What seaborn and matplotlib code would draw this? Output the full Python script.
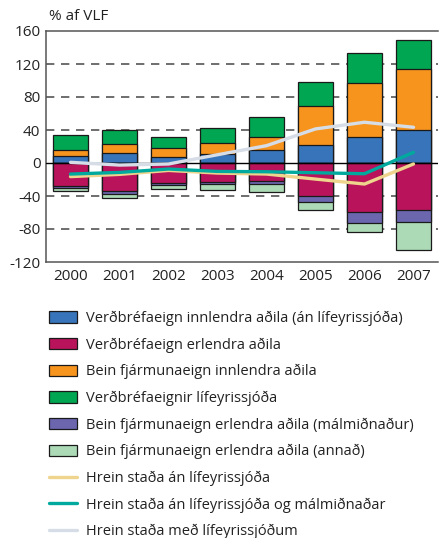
import numpy as np
import pandas as pd
import matplotlib
matplotlib.use("Agg")
import matplotlib.pyplot as plt
import seaborn as sns
from matplotlib.patches import Patch
from matplotlib.lines import Line2D

years = ["2000", "2001", "2002", "2003", "2004", "2005", "2006", "2007"]

# bar segments (% af VLF)
innl_verdbref = [8.5, 12.2, 7.7, 11.3, 15.8, 21.9, 31.6, 40.5]
innl_bein = [6.8, 10.4, 10.1, 12.5, 16.2, 47.4, 64.9, 73.4]
lifeyr_verdbref = [19.1, 17.5, 13.4, 19.2, 23.3, 29.2, 37.3, 34.9]
erl_verdbref = [-27.4, -34.2, -24.0, -23.1, -22.0, -40.1, -59.6, -57.2]
erl_bein_malm = [-2.6, -3.3, -3.2, -2.4, -3.2, -7.3, -13.0, -14.6]
erl_bein_annad = [-3.5, -4.7, -4.4, -7.3, -10.1, -9.8, -11.4, -33.7]

# lines
an_lifeyr = [-16.5, -13.8, -9.0, -12.2, -13.4, -19.5, -25.5, -1.2]
an_lifeyr_malm = [-13.4, -11.4, -7.3, -10.2, -10.6, -11.8, -13.0, 12.9]
med_lifeyr = [0.8, -2.5, -1.2, 10.0, 21.0, 41.3, 49.4, 43.3]

labels = [
    "Verðbréfaeign innlendra aðila (án lífeyrissjóða)",
    "Verðbréfaeign erlendra aðila",
    "Bein fjármunaeign innlendra aðila",
    "Verðbréfaeignir lífeyrissjóða",
    "Bein fjármunaeign erlendra aðila (málmiðnaður)",
    "Bein fjármunaeign erlendra aðila (annað)",
    "Hrein staða án lífeyrissjóða",
    "Hrein staða án lífeyrissjóða og málmiðnaðar",
    "Hrein staða með lífeyrissjóðum",
]

c_blue = "#3874b9"
c_pink = "#b8135b"
c_orange = "#f7941e"
c_green = "#00a651"
c_purple = "#6c66ae"
c_lgreen = "#acd9b6"
c_yellow = "#eed48c"
c_teal = "#00a99d"
c_grey = "#d6dde7"

sns.set_style("white")
plt.rcParams["font.family"] = ["Open Sans", "DejaVu Sans"]
plt.rcParams["axes.unicode_minus"] = False

fig = plt.figure(figsize=(4.4, 5.38), dpi=100)
ax = fig.add_axes([46 / 440, 1 - 262 / 538, 392 / 440, 231 / 538])

df = pd.DataFrame({
    "year": years,
    "pos1": np.array(innl_verdbref),
    "pos2": np.array(innl_verdbref) + np.array(innl_bein),
    "pos3": np.array(innl_verdbref) + np.array(innl_bein) + np.array(lifeyr_verdbref),
    "neg1": np.array(erl_verdbref),
    "neg2": np.array(erl_verdbref) + np.array(erl_bein_malm),
    "neg3": np.array(erl_verdbref) + np.array(erl_bein_malm) + np.array(erl_bein_annad),
})

for y in [120, 80, 40, -40, -80]:
    ax.axhline(y, color="#555555", lw=1.2, dashes=(5, 4), zorder=0)

bar_kw = dict(width=0.73, edgecolor="#1a1a1a", linewidth=0.9, saturation=1, zorder=2)
for col, c in [("pos3", c_green), ("pos2", c_orange), ("pos1", c_blue),
               ("neg3", c_lgreen), ("neg2", c_purple), ("neg1", c_pink)]:
    sns.barplot(data=df, x="year", y=col, color=c, ax=ax, **bar_kw)

ax.axhline(0, color="black", lw=1.0, zorder=3)

xs = np.arange(len(years))
for vals, c in [(med_lifeyr, c_grey), (an_lifeyr, c_yellow), (an_lifeyr_malm, c_teal)]:
    sns.lineplot(x=xs, y=vals, color=c, lw=2.4, ax=ax, zorder=4)

ax.set_xlim(-0.5, 7.5)
ax.set_ylim(-120, 160)
ax.set_yticks(range(-120, 161, 40))
ax.set_xlabel("")
ax.set_ylabel("")
ax.set_xticks(xs)
ax.set_xticklabels(years)
ax.set_xticks(np.arange(-0.5, 8, 1), minor=True)
ax.tick_params(axis="x", which="major", length=0, labelsize=11, pad=5, colors="#222222")
ax.tick_params(axis="x", which="minor", length=7, width=1.1, color="#555555", direction="out")
ax.tick_params(axis="y", length=0, labelsize=11, pad=4, colors="#222222")
for s in ["left", "bottom", "top"]:
    ax.spines[s].set_color("#555555")
    ax.spines[s].set_linewidth(1.1)
ax.spines["right"].set_visible(False)

fig.text(49 / 440, 1 - 17 / 538, "% af VLF", fontsize=11, va="center", ha="left", color="#222222")

handles = [
    Patch(facecolor=c_blue, edgecolor="#1a1a1a", lw=0.9),
    Patch(facecolor=c_pink, edgecolor="#1a1a1a", lw=0.9),
    Patch(facecolor=c_orange, edgecolor="#1a1a1a", lw=0.9),
    Patch(facecolor=c_green, edgecolor="#1a1a1a", lw=0.9),
    Patch(facecolor=c_purple, edgecolor="#1a1a1a", lw=0.9),
    Patch(facecolor=c_lgreen, edgecolor="#1a1a1a", lw=0.9),
    Line2D([], [], color=c_yellow, lw=2.4),
    Line2D([], [], color=c_teal, lw=2.4),
    Line2D([], [], color=c_grey, lw=2.4),
]
fig.legend(handles, labels, loc="upper left", bbox_to_anchor=(43 / 440, 1 - 305 / 538),
           frameon=False, fontsize=10.5, handlelength=1.9, handleheight=0.8,
           handletextpad=0.68, labelspacing=0.78, borderaxespad=0, labelcolor="#222222")

fig.savefig("out.png", dpi=100)
